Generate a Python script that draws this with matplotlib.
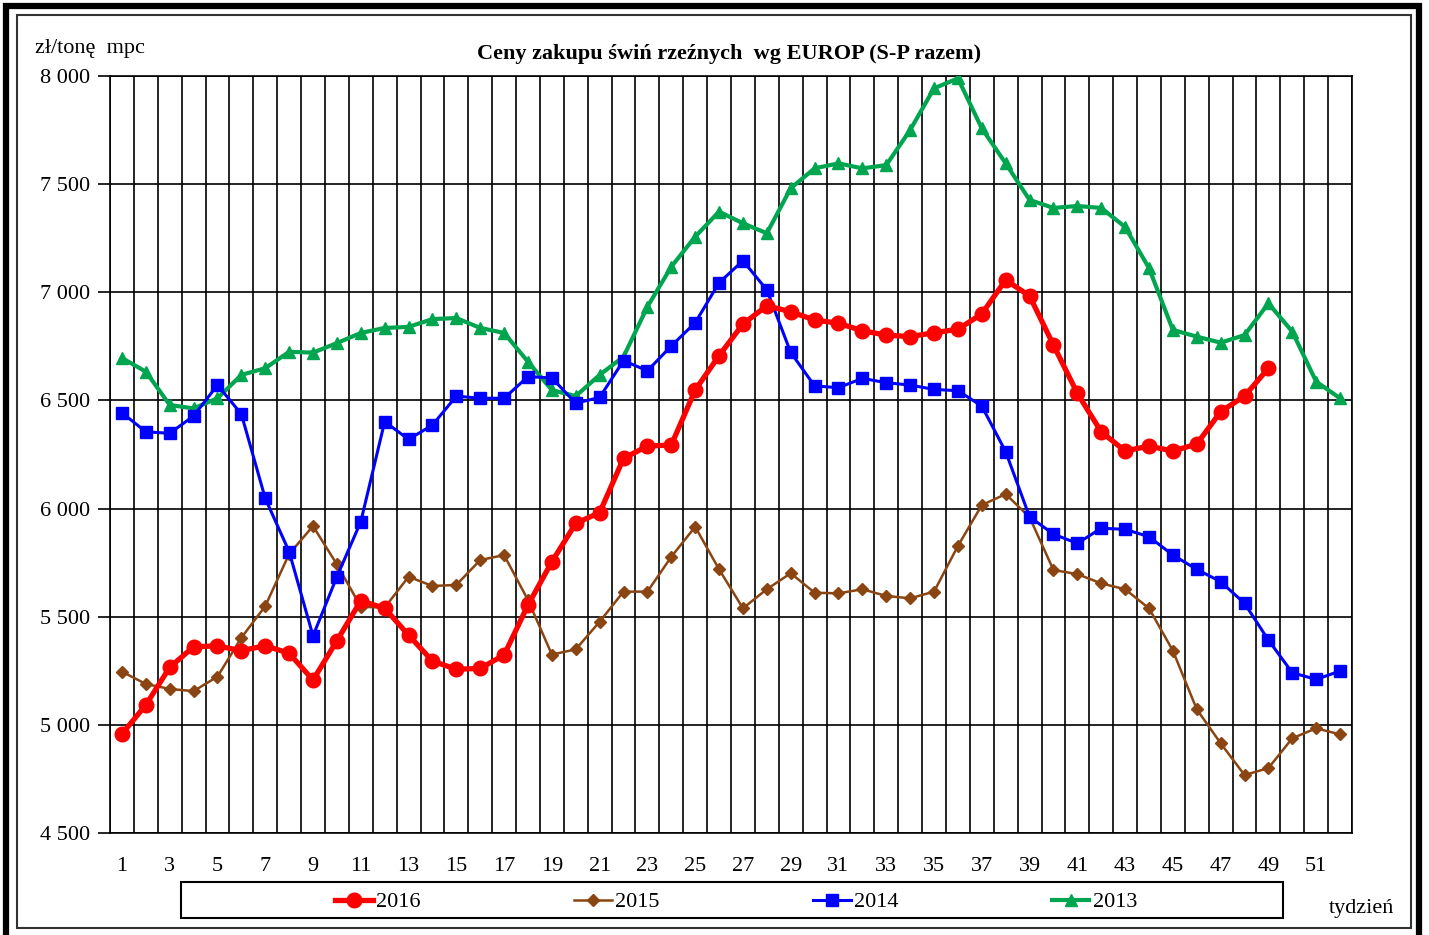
import numpy as np
import matplotlib.pyplot as plt
from matplotlib.patches import Rectangle
from matplotlib.lines import Line2D
from matplotlib.ticker import FuncFormatter

plt.rcParams['font.family'] = ['Liberation Serif', 'DejaVu Serif']

# Ceny zakupu świń rzeźnych (zł/tonę mpc), tygodnie 1-52
weeks = np.arange(1, 53)

ceny_2016 = [4958, 5092, 5266, 5361, 5365, 5343, 5366, 5331, 5207, 5389,
             5574, 5539, 5415, 5295, 5257, 5261, 5323, 5554, 5754, 5932,
             5981, 6232, 6289, 6294, 6548, 6707, 6853, 6938, 6910, 6872,
             6857, 6822, 6802, 6795, 6813, 6829, 6900, 7057, 6983, 6756,
             6533, 6355, 6266, 6289, 6266, 6298, 6448, 6520, 6649]

ceny_2015 = [5246, 5189, 5166, 5156, 5223, 5403, 5549, 5790, 5919, 5742,
             5546, 5542, 5685, 5642, 5647, 5762, 5785, 5577, 5325, 5349,
             5477, 5616, 5616, 5777, 5916, 5719, 5539, 5627, 5701, 5611,
             5608, 5627, 5596, 5585, 5616, 5827, 6016, 6067, 5960, 5716,
             5697, 5654, 5627, 5539, 5343, 5072, 4915, 4768, 4800, 4938,
             4984, 4956]

ceny_2014 = [6443, 6355, 6348, 6428, 6571, 6437, 6047, 5801, 5411, 5685,
             5939, 6402, 6320, 6386, 6520, 6510, 6510, 6610, 6604, 6487,
             6514, 6684, 6637, 6752, 6859, 7044, 7146, 7011, 6722, 6567,
             6559, 6602, 6582, 6571, 6551, 6545, 6474, 6263, 5962, 5882,
             5839, 5909, 5904, 5870, 5785, 5719, 5662, 5562, 5392, 5241,
             5210, 5249]

ceny_2013 = [6696, 6633, 6479, 6463, 6510, 6618, 6649, 6725, 6721, 6765,
             6812, 6835, 6840, 6876, 6881, 6835, 6812, 6679, 6548, 6520,
             6618, 6702, 6933, 7118, 7257, 7373, 7319, 7273, 7481, 7573,
             7596, 7573, 7588, 7750, 7943, 7989, 7758, 7596, 7427, 7390,
             7399, 7390, 7302, 7112, 6826, 6795, 6767, 6802, 6949, 6818,
             6587, 6510]

lata = ['2016', '2015', '2014', '2013']
kolory = ['#FF0000', '#8B4513', '#0000FF', '#00A550']

fig = plt.figure(figsize=(14.29, 9.35), dpi=100)
W, H = 1429, 935

# ramki dookoła wykresu
fig.patches.append(Rectangle((6 / W, -0.01), 1413 / W, 1 - 6 / H + 0.01, transform=fig.transFigure,
                             fill=False, edgecolor='black', linewidth=4.5))
fig.patches.append(Rectangle((17 / W, 1 - 928 / H), (1411 - 17) / W, (928 - 15) / H,
                             transform=fig.transFigure, fill=False, edgecolor='#333333', linewidth=1.5))
# ramka legendy
fig.patches.append(Rectangle((181 / W, 1 - 918 / H), (1283 - 181) / W, 36 / H,
                             transform=fig.transFigure, fill=False, edgecolor='black', linewidth=1.5))

ax = fig.add_axes([110 / W, 1 - 833 / H, (1352 - 110) / W, (833 - 76) / H])

styl = [dict(lw=3.8, marker='o', ms=10.5),
        dict(lw=1.8, marker='D', ms=6),
        dict(lw=2.2, marker='s', ms=9),
        dict(lw=3, marker='^', ms=9)]
serie = [ceny_2016, ceny_2015, ceny_2014, ceny_2013]
zorders = [6, 3, 5, 4]
for y, c, st, z in zip(serie, kolory, styl, zorders):
    ax.plot(weeks[:len(y)], y, color=c, zorder=z, **st)

ax.set_xlim(0.5, 52.5)
ax.set_ylim(4500, 8000)
ax.set_yticks(np.arange(4500, 8001, 500))
ax.yaxis.set_major_formatter(FuncFormatter(lambda v, p: f'{int(v):,}'.replace(',', ' ')))
ax.set_xticks(np.arange(1, 53, 2))
ax.set_xticks(np.arange(0.5, 53, 1), minor=True)
ax.tick_params(axis='x', which='both', length=0, labelsize=16, pad=17)
ax.tick_params(axis='y', length=9, width=1.2, labelsize=16, pad=5)
ax.grid(axis='y', which='major', color='black', lw=1.2)
ax.grid(axis='x', which='minor', color='black', lw=1.2)
ax.set_axisbelow(True)
for s in ax.spines.values():
    s.set_linewidth(1.2)
    s.set_color('black')

fig.text(35 / W, 1 - 49 / H, 'zł/tonę  mpc', fontsize=16, va='center', ha='left')
fig.text(729 / W, 1 - 54 / H, 'Ceny zakupu świń rzeźnych  wg EUROP (S-P razem)',
         fontsize=16, fontweight='bold', ha='center', va='center')
fig.text(1362 / W, 1 - 908 / H, 'tydzień', fontsize=16, ha='center', va='center')

handles = [Line2D([], [], color=c, **st) for c, st in zip(kolory, styl)]
leg = fig.legend(handles, lata, ncol=4, loc='center',
                 bbox_to_anchor=(736 / W, 1 - 902 / H), frameon=False, fontsize=16,
                 handlelength=1.7, handletextpad=0.15, columnspacing=6.9, borderpad=0)

fig.savefig('out.png', dpi=100)
